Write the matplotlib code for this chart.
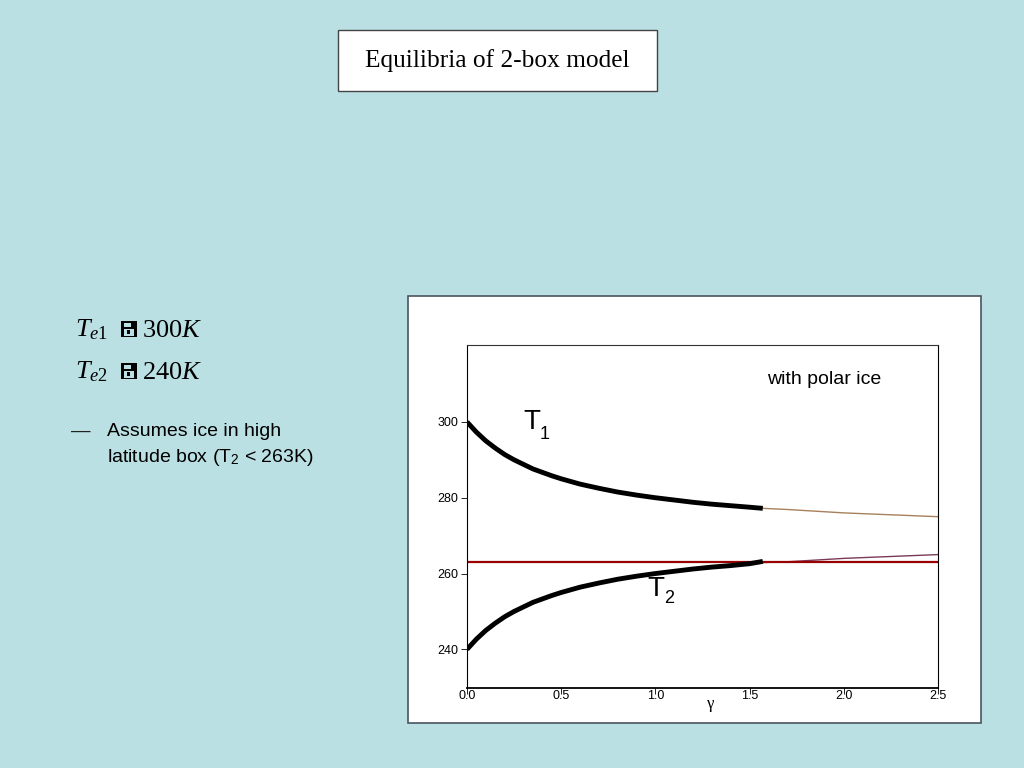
import numpy as np
import matplotlib
matplotlib.use("Agg")
import matplotlib.pyplot as plt
from matplotlib.patches import Rectangle

plt.rcParams['font.family'] = ['Liberation Sans', 'DejaVu Sans']
plt.rcParams['mathtext.fontset'] = 'custom'
plt.rcParams['mathtext.rm'] = 'Liberation Serif'
plt.rcParams['mathtext.it'] = 'Liberation Serif:italic'

# values
gamma = [0.0, 0.05, 0.1, 0.15, 0.2, 0.25, 0.3, 0.35, 0.4, 0.45, 0.5,
         0.6, 0.7, 0.8, 0.9, 1.0, 1.1, 1.2, 1.3, 1.4, 1.5, 1.57]
t1_ice = [300.0, 297.3, 295.0, 293.1, 291.4, 290.0, 288.8, 287.6, 286.7,
          285.8, 285.0, 283.6, 282.5, 281.5, 280.7, 280.0, 279.4, 278.8,
          278.3, 277.9, 277.5, 277.2]
t2_ice = [240.0, 242.7, 245.0, 246.9, 248.6, 250.0, 251.2, 252.4, 253.3,
          254.2, 255.0, 256.4, 257.5, 258.5, 259.3, 260.0, 260.6, 261.2,
          261.7, 262.1, 262.6, 263.2]

gamma_ext = [1.57, 1.7, 1.8, 1.9, 2.0, 2.2, 2.5]
t1_ext = [277.2, 276.9, 276.6, 276.3, 276.0, 275.6, 275.0]
t2_ext = [262.9, 263.1, 263.4, 263.7, 264.0, 264.4, 265.0]

t_freeze = 263.0

bg = '#bbe0e3'
fig = plt.figure(figsize=(10.24, 7.68), dpi=100, facecolor=bg)


def box(x0, y0, x1, y1, **kw):
    # rectangle given in pixel coords of the slide (y down)
    r = Rectangle((x0 / 1024, 1 - y1 / 768), (x1 - x0) / 1024, (y1 - y0) / 768,
                  transform=fig.transFigure, **kw)
    fig.patches.append(r)
    return r


def fx(px):
    return px / 1024


def fy(py):
    return 1 - py / 768


# title box
box(338, 30, 657, 91, facecolor='white', edgecolor='#444444', lw=1.0, zorder=-2)
fig.text(fx(497), fy(61), 'Equilibria of 2-box model', family='Liberation Serif',
         fontsize=18.3, ha='center', va='center')

# left text
for yy, val in ((330, '300'), (372, '240')):
    fig.text(fx(75), fy(yy), r'$T_{e%s}$' % ('1' if val == '300' else '2'),
             fontsize=19, va='center')
    d = yy - 330
    box(121, 321 + d, 137, 337 + d, facecolor='black', lw=0, zorder=1)
    box(124, 323 + d, 131, 327 + d, facecolor=bg, lw=0, zorder=2)
    box(124, 329 + d, 134, 336 + d, facecolor=bg, lw=0, zorder=2)
    box(127, 330 + d, 130, 334 + d, facecolor='black', lw=0, zorder=3)
    fig.text(fx(142), fy(yy), r'$\mathrm{%s}K$' % val, fontsize=19, va='center')

fig.text(fx(71), fy(431), '\u2014', fontsize=14, va='center', color='#222222')
fig.text(fx(107), fy(432), 'Assumes ice in high', fontsize=14, va='center')
fig.text(fx(107), fy(458), r'latitude box (T$_\mathregular{2}$ < 263K)', fontsize=14,
         va='center')

# white chart panel
box(408, 296, 981, 723, facecolor='white', edgecolor='#4a5560', lw=1.2, zorder=-1)

ax = fig.add_axes([fx(467), fy(688), fx(938) - fx(467), fy(345) - fy(688)])
ax.set_facecolor('white')
ax.plot(gamma_ext, t1_ext, color='#a8805c', lw=1.0)
ax.plot(gamma_ext, t2_ext, color='#7a3a5a', lw=1.0)
ax.axhline(t_freeze, color='#990000', lw=1.6)
ax.plot(gamma, t1_ice, color='black', lw=3.5, solid_capstyle='butt')
ax.plot(gamma, t2_ice, color='black', lw=3.5, solid_capstyle='butt')

ax.set_xlim(0, 2.5)
ax.set_ylim(229.8, 320.3)
ax.set_xticks([0.0, 0.5, 1.0, 1.5, 2.0, 2.5])
ax.set_xticklabels(['0.0', '0.5', '1.0', '1.5', '2.0', '2.5'])
ax.set_yticks([240, 260, 280, 300])
ax.tick_params(axis='both', labelsize=9, length=4, width=0.6)
ax.tick_params(axis='x', pad=-2.8)
ax.tick_params(axis='y', pad=2)
for s in ax.spines.values():
    s.set_linewidth(0.8)
ax.spines['bottom'].set_linewidth(1.3)
ax.spines['top'].set_color('#333333')
ax.text(0.518, -0.046, '\u03b3', transform=ax.transAxes, fontsize=12,
        family='Liberation Serif', ha='center', va='center')

ax.text(0.30, 300, 'T', fontsize=20, va='center')
ax.text(0.385, 296.6, '1', fontsize=13, va='center')
ax.text(0.96, 256.0, 'T', fontsize=20, va='center')
ax.text(1.045, 253.4, '2', fontsize=13, va='center')
ax.text(0.758, 0.898, 'with polar ice', transform=ax.transAxes, fontsize=14,
        ha='center', va='center')

fig.savefig('out.png', dpi=100, facecolor=bg)
